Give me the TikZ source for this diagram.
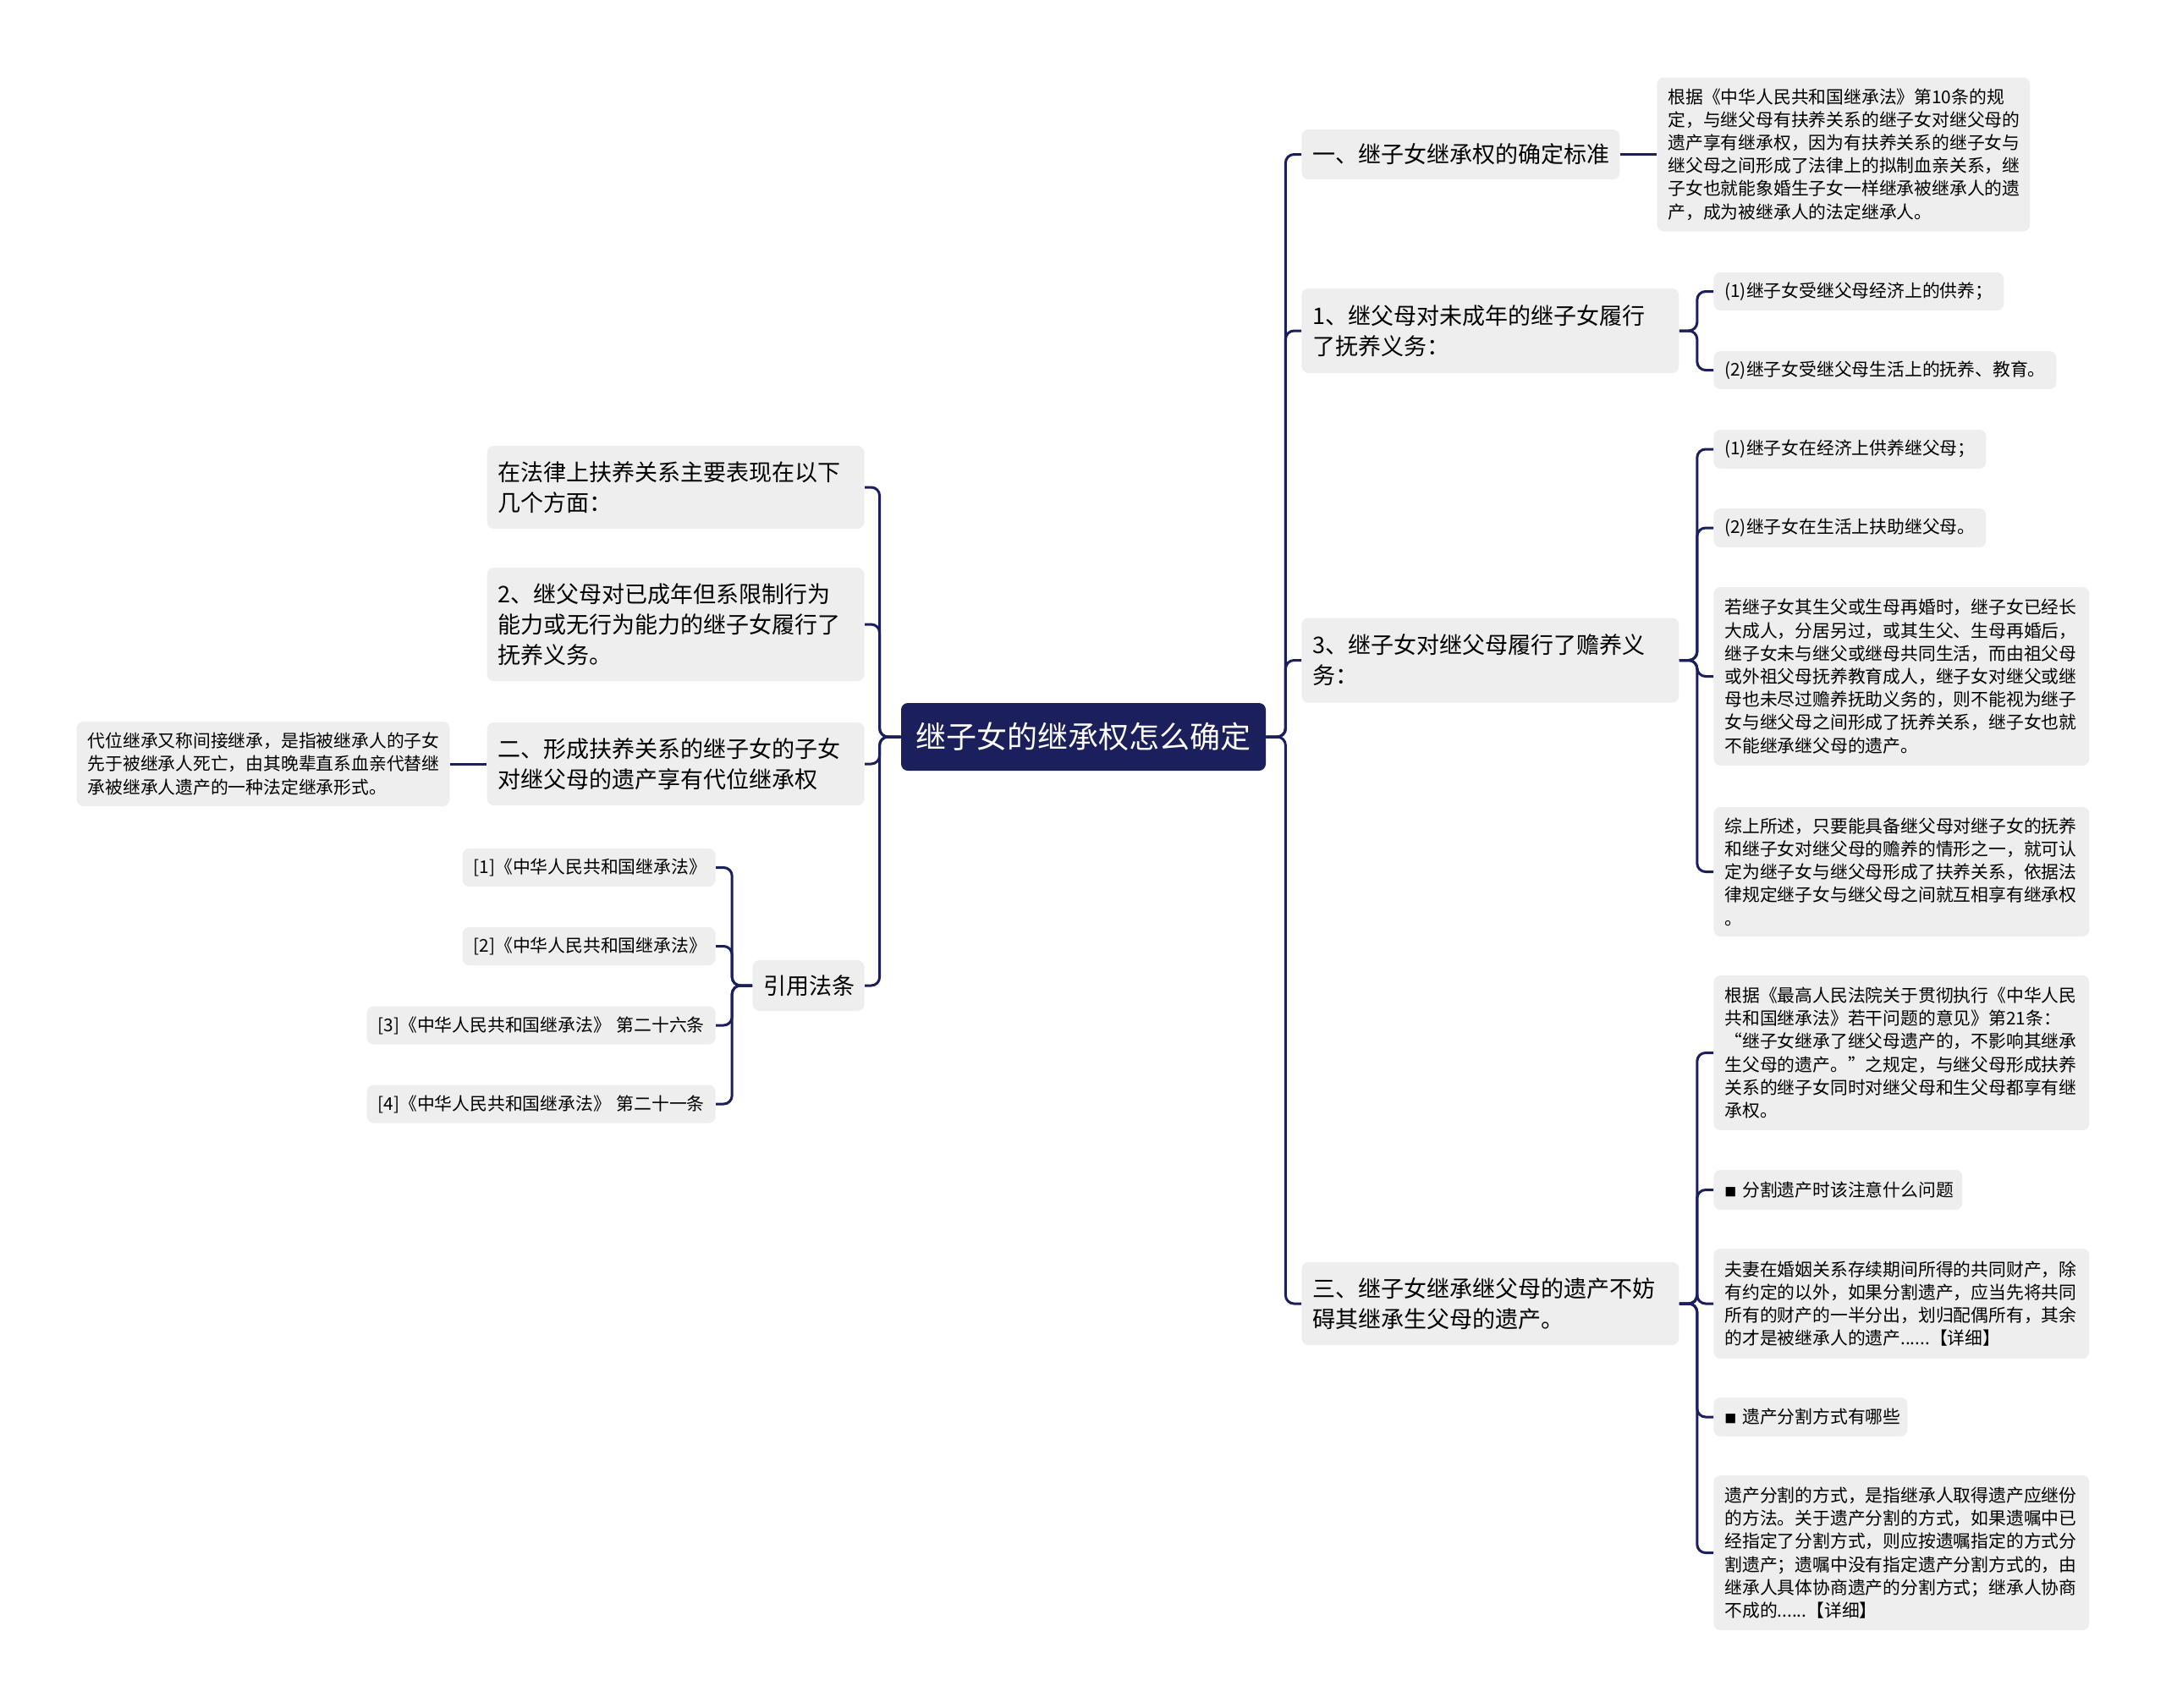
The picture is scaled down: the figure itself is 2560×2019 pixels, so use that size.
\documentclass[tikz,border=0pt]{standalone}
\usepackage{fontspec}
\setmainfont{Noto Sans CJK SC}
\usepackage{xcolor}
\definecolor{navy}{RGB}{27,31,92}
\definecolor{boxgray}{RGB}{238,238,238}
\newcommand{\sqmark}{{\fontsize{7pt}{7pt}\selectfont ■}}
\tikzset{
  blk/.style   = {fill=boxgray, rounded corners=4pt, align=left,
                  inner xsep=6.5pt, inner ysep=0pt},
  topic/.style = {blk, font=\fontsize{13.5pt}{18pt}\selectfont},
  leaf/.style  = {blk, font=\fontsize{10.4pt}{13.6pt}\selectfont},
  hub/.style   = {fill=navy, text=white, rounded corners=4pt, align=center,
                  font=\fontsize{18pt}{22pt}\selectfont},
  link/.style  = {draw=navy, line width=1.5pt, rounded corners=5pt},
}

\begin{document}
\begin{tikzpicture}[x=0.5pt, y=-0.5pt,
                    topic/.append style={text width=210pt},
                    leaf/.append style={text width=209pt}]
  \useasboundingbox (0,0) rectangle (2560,2019);

  \node[hub, minimum width=215.5pt, minimum height=40pt] (root) at (1280.5,871) {继子女的继承权怎么确定};

  % right side
  \node[topic, anchor=west, text width=175pt, minimum height=29.5pt] (r1) at (1538,182.5) {一、继子女继承权的确定标准};
  \node[topic, anchor=west, minimum height=50pt] (r2) at (1538,391) {1、继父母对未成年的继子女履行\\了抚养义务：};
  \node[topic, anchor=west, minimum height=50pt] (r3) at (1538,780.5) {3、继子女对继父母履行了赡养义\\务：};
  \node[topic, anchor=west, minimum height=49pt] (r4) at (1538,1541) {三、继子女继承继父母的遗产不妨\\碍其继承生父母的遗产。};

  \node[leaf, anchor=west, text width=207.5pt, minimum height=91pt] (r1c) at (1958,182.5)
    {根据《中华人民共和国继承法》第10条的规\\定，与继父母有扶养关系的继子女对继父母的\\遗产享有继承权，因为有扶养关系的继子女与\\继父母之间形成了法律上的拟制血亲关系，继\\子女也就能象婚生子女一样继承被继承人的遗\\产，成为被继承人的法定继承人。};

  \node[leaf, anchor=west, text width=158.5pt, minimum height=22.5pt] (r2a) at (2025,344.5) {(1)继子女受继父母经济上的供养；};
  \node[leaf, anchor=west, text width=189.5pt, minimum height=22.5pt] (r2b) at (2025,437.5) {(2)继子女受继父母生活上的抚养、教育。};

  \node[leaf, anchor=west, text width=148pt, minimum height=23pt] (r3a) at (2025,531) {(1)继子女在经济上供养继父母；};
  \node[leaf, anchor=west, text width=148pt, minimum height=23pt] (r3b) at (2025,624) {(2)继子女在生活上扶助继父母。};
  \node[leaf, anchor=west, minimum height=105.5pt] (r3c) at (2025,799.5)
    {若继子女其生父或生母再婚时，继子女已经长\\大成人，分居另过，或其生父、生母再婚后，\\继子女未与继父或继母共同生活，而由祖父母\\或外祖父母抚养教育成人，继子女对继父或继\\母也未尽过赡养抚助义务的，则不能视为继子\\女与继父母之间形成了抚养关系，继子女也就\\不能继承继父母的遗产。};
  \node[leaf, anchor=west, minimum height=76.5pt] (r3d) at (2025,1030.5)
    {综上所述，只要能具备继父母对继子女的抚养\\和继子女对继父母的赡养的情形之一，就可认\\定为继子女与继父母形成了扶养关系，依据法\\律规定继子女与继父母之间就互相享有继承权\\。};

  \node[leaf, anchor=west, minimum height=91.5pt] (r4a) at (2025,1244.5)
    {根据《最高人民法院关于贯彻执行《中华人民\\共和国继承法》若干问题的意见》第21条：\\“继子女继承了继父母遗产的，不影响其继承\\生父母的遗产。”之规定，与继父母形成扶养\\关系的继子女同时对继父母和生父母都享有继\\承权。};
  \node[leaf, anchor=west, text width=134pt, minimum height=23.5pt] (r4b) at (2025,1406.5) {\sqmark~分割遗产时该注意什么问题};
  \node[leaf, anchor=west, minimum height=65pt] (r4c) at (2025,1541)
    {夫妻在婚姻关系存续期间所得的共同财产，除\\有约定的以外，如果分割遗产，应当先将共同\\所有的财产的一半分出，划归配偶所有，其余\\的才是被继承人的遗产......【详细】};
  \node[leaf, anchor=west, text width=101.5pt, minimum height=23pt] (r4d) at (2025,1675) {\sqmark~遗产分割方式有哪些};
  \node[leaf, anchor=west, minimum height=91.5pt] (r4e) at (2025,1835.5)
    {遗产分割的方式，是指继承人取得遗产应继份\\的方法。关于遗产分割的方式，如果遗嘱中已\\经指定了分割方式，则应按遗嘱指定的方式分\\割遗产；遗嘱中没有指定遗产分割方式的，由\\继承人具体协商遗产的分割方式；继承人协商\\不成的......【详细】};

  % left side
  \node[topic, anchor=east, minimum height=49pt] (l1) at (1022,576) {在法律上扶养关系主要表现在以下\\几个方面：};
  \node[topic, anchor=east, minimum height=67pt] (l2) at (1022,738) {2、继父母对已成年但系限制行为\\能力或无行为能力的继子女履行了\\抚养义务。};
  \node[topic, anchor=east, minimum height=49pt] (l3) at (1022,903) {二、形成扶养关系的继子女的子女\\对继父母的遗产享有代位继承权};
  \node[topic, anchor=east, text width=53pt, minimum height=30pt] (l4) at (1022,1165) {引用法条};

  \node[leaf, anchor=east, text width=207.5pt, minimum height=50pt] (l3c) at (532,903)
    {代位继承又称间接继承，是指被继承人的子女\\先于被继承人死亡，由其晚辈直系血亲代替继\\承被继承人遗产的一种法定继承形式。};

  \node[leaf, anchor=east, text width=136.5pt, minimum height=22.5pt] (l4a) at (846,1025.5) {[1]《中华人民共和国继承法》};
  \node[leaf, anchor=east, text width=136.5pt, minimum height=22.5pt] (l4b) at (846,1118.5) {[2]《中华人民共和国继承法》};
  \node[leaf, anchor=east, text width=193pt, minimum height=22.5pt] (l4c) at (846,1212) {[3]《中华人民共和国继承法》~第二十六条};
  \node[leaf, anchor=east, text width=193pt, minimum height=22.5pt] (l4d) at (846,1305) {[4]《中华人民共和国继承法》~第二十一条};

  % connectors
  \foreach \n in {r1,r2,r3,r4}
    \draw[link] (root.east) -- ++(23,0) |- (\n.west);
  \foreach \n in {l1,l2,l3,l4}
    \draw[link] (root.west) -- ++(-25,0) |- (\n.east);

  \draw[link] (r1.east) -- (r1c.west);
  \foreach \n in {r2a,r2b}
    \draw[link] (r2.east) -- ++(21,0) |- (\n.west);
  \foreach \n in {r3a,r3b,r3c,r3d}
    \draw[link] (r3.east) -- ++(21,0) |- (\n.west);
  \foreach \n in {r4a,r4b,r4c,r4d,r4e}
    \draw[link] (r4.east) -- ++(21,0) |- (\n.west);

  \draw[link] (l3.west) -- (l3c.east);
  \foreach \n in {l4a,l4b,l4c,l4d}
    \draw[link] (l4.west) -- ++(-24,0) |- (\n.east);
\end{tikzpicture}
\end{document}
